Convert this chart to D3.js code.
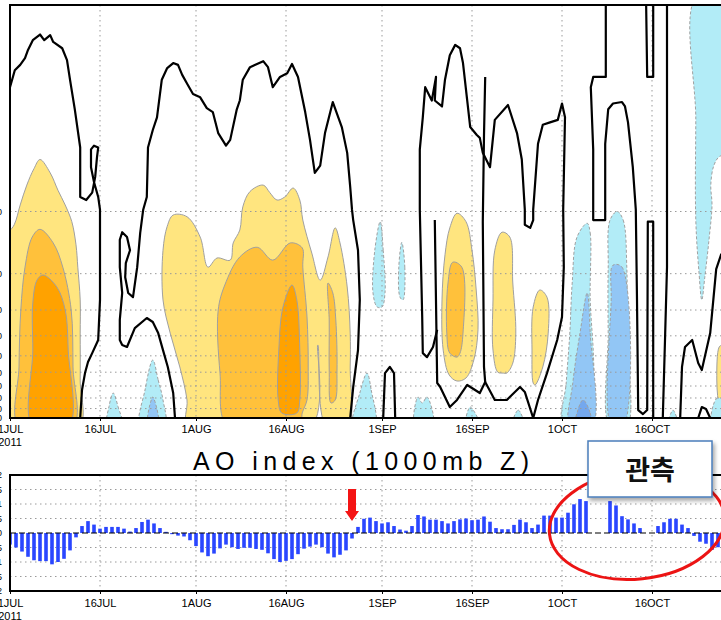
<!DOCTYPE html>
<html>
<head>
<meta charset="utf-8">
<script src="https://cdn.jsdelivr.net/npm/d3@7"></script>
<style>
  body { margin: 0; background: #fff; }
  svg { display: block; }
</style>
</head>
<body>
<div id="chart"></div>
<script>
// day index 0 = 1 JUL 2011
const dayTicks = [0, 15, 31, 46, 62, 77, 92, 107];
const dayLabels = ["1JUL", "16JUL", "1AUG", "16AUG", "1SEP", "16SEP", "1OCT", "16OCT"];
const pressureTicks = [1000, 900, 800, 700, 600, 500, 400, 300, 200, 100];
const aoTicks = [-2, -1.5, -1, -0.5, 0, 0.5, 1, 1.5, 2];

// daily AO index (null = no bar)
const aoValues = [
  -0.4, -0.5, -0.64, -0.82, -0.94, -0.97, -0.97, -1.08, -1.0, -0.89,
  -0.6, -0.15, 0.24, 0.41, 0.29, 0.15, 0.21, 0.21, 0.21, 0.15,
  0.05, 0.17, 0.38, 0.46, 0.33, 0.17, 0.04, -0.04, -0.09, -0.12,
  -0.25, -0.45, -0.67, -0.8, -0.71, -0.53, -0.4, -0.49, -0.55, -0.51,
  -0.51, -0.55, -0.58, -0.7, -0.9, -1.0, -0.96, -0.9, -0.73, -0.54,
  -0.47, -0.4, -0.49, -0.71, -0.84, -0.75, -0.6, -0.19, 0.21, 0.49,
  0.53, 0.41, 0.33, 0.37, 0.24, 0.12, 0.08, 0.24, 0.62, 0.57,
  0.46, 0.46, 0.41, 0.33, 0.41, 0.47, 0.5, 0.44, 0.46, 0.57,
  0.39, 0.17, 0.13, 0.13, 0.28, 0.46, 0.37, 0.17, 0.29, 0.6,
  0.6, 0.53, 0.53, 0.7, 0.99, 1.17, 1.1, null, null, null,
  1.1, 0.95, 0.58, 0.47, 0.33, 0.17, null, null, 0.24, 0.37,
  0.49, 0.49, 0.29, 0.17, -0.1, -0.3, -0.37, -0.58, -0.49
];

// shaded areas of the time-height section: [day, hPa]
const yellowAreas = [
  [[5,56],[6.7,65],[8,79],[9.2,93],[10.3,112],[11,145],[11.3,186],[11.7,268],[11.7,388],[11.7,655],[11.5,1100],[-1,1100],[-1,137],[0.7,116],[1.7,93],[2.8,74.5],[4,62]],
  [[25.5,154],[26.2,118],[27.2,104],[29.5,106],[31.7,133],[33,186],[34.5,168],[36.7,172],[37.2,142],[38.3,123],[38.8,95],[40,80],[42.2,74.5],[43.3,81],[44.5,88],[45.8,85],[47.2,77],[48.3,88],[48.8,110],[50.3,159],[51.7,215],[53,166],[54.2,120],[55,142],[56.2,232],[56.7,388],[56.7,566],[56.3,1100],[52.7,1100],[51.3,443],[50.2,1100],[29.7,1100],[29.5,818],[28.3,566],[26.7,388],[25.5,268]],
  [[74.5,102],[76,112],[77,154],[77.7,240],[78,374],[77.3,524],[76,640],[74.5,662],[73.2,619],[72.2,469],[72,268],[72.5,162],[73.3,120]],
  [[82,126],[83.3,133],[83.8,222],[84.3,388],[83.8,542],[82.8,606],[82.2,606],[81.3,600],[80.5,469],[80.5,268],[80.8,154]],
  [[88.3,240],[89.5,260],[89.7,388],[88.8,566],[87.5,692],[87.2,677],[87,469],[87.2,290]],
  [[118.2,453],[118.7,443],[121,430],[121,1100],[118.7,1100],[118.2,915],[117.8,655]]
];
const orangeAreas = [
  [[5,122],[7.2,142],[8.8,186],[10.2,300],[10.5,566],[10.5,1100],[1.5,1100],[1.5,566],[1.8,300],[2.5,186],[3.7,133]],
  [[34.7,300],[35.8,227],[38.3,166],[41.2,149],[43.8,172],[46.7,142],[48.7,150],[48.8,186],[49.5,324],[49.7,566],[49.5,818],[48.7,946],[48.3,1100],[36.3,1100],[35,606]],
  [[53,222],[53.8,248],[54.3,335],[54.5,586],[54.2,818],[53.5,846],[53.2,586],[53.2,335]],
  [[73.8,176],[75.3,186],[75.5,388],[75,485],[74.5,507],[73.3,485],[72.8,388],[73,222]]
];
const darkOrangeAreas = [
  [[5.5,203],[7.8,232],[9.2,300],[9.7,469],[9.8,1100],[3.8,1100],[3.8,469],[3.8,277],[4.5,215]],
  [[47,227],[47.8,268],[48.3,469],[48.3,818],[47.8,946],[45.3,946],[44.7,818],[44.8,469],[45.5,290]]
];
const cyanAreas = [
  [[17.2,757],[18,880],[18.7,1100],[16.2,1100],[16.5,880]],
  [[23.8,524],[24.7,655],[25.5,818],[25.8,1100],[21.7,1100],[22.5,732]],
  [[61.7,112],[62.2,154],[62.5,248],[62,290],[61.2,290],[60.5,248],[60.8,154]],
  [[65.3,141],[65.8,186],[65.5,268],[65,260],[64.8,186]],
  [[59.5,606],[60.2,732],[60.8,1100],[57.2,1100],[58.3,757]],
  [[67.5,1100],[68,791],[68.7,846],[69.5,791],[70.5,1100]],
  [[76.7,885],[78.3,1100],[76,1100]],
  [[96.2,114],[96.7,127],[96.7,268],[97.2,469],[97.5,946],[97.5,1100],[92.2,1100],[92.7,677],[93.3,388],[93.7,222],[94.5,133]],
  [[101.2,100],[102.2,110],[102.8,186],[102.8,388],[102.8,1100],[100,1100],[99.7,388],[99.7,186],[100,110]],
  [[114.5,9],[122,9],[122,51],[118.3,54],[117.3,60],[116.8,74.5],[117,93],[116.5,137],[115.8,208],[115.3,268],[114.8,192],[114.3,110],[114.3,36]],
  [[109.7,1100],[110.5,915],[111.3,1100]],
  [[117,1100],[117.7,808],[118.7,800],[120,800],[120,1100]],
  [[83.7,1100],[84.7,915],[85.7,1100]]
];
const blueAreas = [
  [[23.8,791],[24.7,1100],[23,1100]],
  [[96.2,248],[96.7,388],[97,1100],[93.3,1100],[93.8,677],[95,388]],
  [[100.5,182],[102,186],[102.2,1100],[100.3,1100],[100.2,268]]
];
const darkBlueAreas = [
  [[95.5,818],[96.7,946],[96.8,1100],[94.2,1100],[94.5,946]]
];

// thick black contour lines: [day, hPa]
const contourLines = [
  [[0,25],[0.8,20.7],[1.7,19.5],[2.5,18.1],[3,16.5],[3.8,14.8],[5,13.9],[5.7,14.8],[6.7,14],[7.2,15.1],[8.7,16.2],[9.5,18.5],[10,23],[10.8,32],[11.7,49],[11.7,85],[12.7,88],[13.7,81],[14.2,68],[14.5,54.5],[14.7,49],[14,48],[13.5,50],[13.5,61],[14,72],[14.7,85],[15,98],[15,106],[15,268],[14.7,419],[13.7,485],[13,536],[12.5,606],[12,732],[11.7,1000]],
  [[27.5,1000],[27.2,757],[26.3,566],[25.5,469],[24.7,388],[23.8,343],[22.8,328],[20.8,367],[19.5,453],[18.7,443],[18.3,419],[18.3,335],[18.7,248],[18.3,186],[18.3,137],[18.7,126],[19.5,133],[20,154],[19.3,178],[19.2,208],[19.7,248],[20.5,260],[21.2,186],[21.7,127],[22.2,98],[22.8,85],[23,49],[23.8,40.3],[24.5,35],[25.3,23],[26.2,20.2],[27.2,19.1],[28,19.5],[28.7,21.8],[29.5,24],[30.5,27],[31.7,28],[32.8,31.6],[33.8,33],[34.7,41.7],[36,48],[36.7,45],[37.8,32],[38.3,29],[38.8,23],[40,20],[40.8,19.5],[42.2,18.7],[43,20],[43.8,25],[45,22.3],[46.2,21.4],[47,19.3],[48,22.3],[49.2,33],[50,45],[50.8,65],[51.7,60],[52.5,41.7],[53.8,29.5],[55.3,39],[56.2,52],[56.7,76],[57,98],[57.2,110],[58,154],[58.3,268],[58,469],[57.2,708],[56.7,1000]],
  [[62.2,1000],[62.5,606],[63.3,566],[64,606],[64.2,1000]],
  [[71.2,374],[70.5,453],[69.5,507],[68.8,485],[68.7,324],[68.3,98],[68.3,50],[68.8,35],[69.2,25],[70.3,29],[71,22.3],[70.8,29],[72,31],[72.5,23],[73.3,17.5],[74.2,15.6],[75,16.2],[75.5,19.1],[76.2,29],[76.7,39],[77.8,42.6],[78.3,44],[78.8,52],[80,61],[80.8,36],[83,30.5],[84.5,41.7],[85.3,56],[85.8,98],[85.8,116],[86.7,120],[87.2,110],[87.2,98],[88,47],[88.8,38],[90,37],[91.3,36],[92,30],[92.5,35],[92.2,98],[92.3,186],[92,324],[91.2,419],[89.5,606],[88,818],[87.2,1000]],
  [[70.8,110],[71.2,677],[71.7,708],[73.3,885],[74.5,818],[76.2,692],[78.3,757],[79.2,670],[80.8,818],[82.8,818],[85,708],[85.8,748],[87.2,1000]],
  [[79.2,22.3],[79,42.6],[78.8,112],[79,566],[79.2,670]],
  [[99.3,9],[99.3,22.3],[97.2,22.3],[96.8,25],[97.2,50],[97.2,110],[99.2,110],[99.2,47],[99.7,32],[100.5,30],[102,29.5],[102.5,31],[103,37],[103.8,61],[104.3,98],[104.5,268],[104.7,915],[105.5,957],[106.2,915],[106.3,112],[107.2,112],[107.2,1000]],
  [[106,9],[106.2,22.3],[107.2,22.3],[107.2,9]],
  [[109.5,9],[109.5,98],[109.5,186],[109.2,388],[108.8,1000]],
  [[111.7,1000],[112,566],[112.5,453],[113.7,419],[114.7,542],[115.3,586],[116.7,388],[117.7,190],[118.5,162],[119.5,150]],
  [[114.7,1000],[115.3,885],[116,905],[116.7,1000]]
];

const width = 721;
const height = 620;

const svg = d3.select("#chart")
  .append("svg")
  .attr("width", width)
  .attr("height", height)
  .style("font-family", "'Liberation Sans', Arial, sans-serif");

const x = d3.scaleLinear().domain([0, 122]).range([10, 742]);
const yP = d3.scaleLog().domain([1000, 10]).range([418, 5]);
const yA = d3.scaleLinear().domain([-2, 2]).range([591, 475]);

const defs = svg.append("defs");
defs.append("clipPath").attr("id", "topClip")
  .append("rect").attr("x", 10).attr("y", 5).attr("width", 732).attr("height", 413);
defs.append("clipPath").attr("id", "botClip")
  .append("rect").attr("x", 10).attr("y", 475).attr("width", 732).attr("height", 116);
const shadow = defs.append("filter").attr("id", "shadow")
  .attr("x", "-20%").attr("y", "-20%").attr("width", "150%").attr("height", "160%");
shadow.append("feDropShadow").attr("dx", 2).attr("dy", 3)
  .attr("stdDeviation", 2).attr("flood-color", "#000").attr("flood-opacity", 0.35);

// ---------- upper panel ----------
const upper = svg.append("g").attr("clip-path", "url(#topClip)");

const area = d3.line()
  .x(d => x(d[0]))
  .y(d => yP(d[1]))
  .curve(d3.curveCatmullRomClosed.alpha(0.5));

function shade(list, fill, dashed) {
  upper.append("g")
    .selectAll("path")
    .data(list)
    .enter()
    .append("path")
    .attr("d", area)
    .attr("fill", fill)
    .attr("stroke", "#a0a0a0")
    .attr("stroke-width", 1)
    .attr("stroke-dasharray", dashed ? "3,2" : null);
}

shade(yellowAreas, "#ffe57f", false);
shade(orangeAreas, "#ffc13b", false);
shade(darkOrangeAreas, "#ffa200", false);
shade(cyanAreas, "#b2ecf7", true);
shade(blueAreas, "#92c6f5", true);
shade(darkBlueAreas, "#74a8ee", true);

// dotted grid
upper.selectAll(".vgrid")
  .data(dayTicks.slice(1))
  .enter()
  .append("line")
  .attr("x1", d => x(d)).attr("x2", d => x(d))
  .attr("y1", 5).attr("y2", 418)
  .attr("stroke", "#9a9a9a").attr("stroke-dasharray", "1.5,3.5");

upper.selectAll(".hgrid")
  .data(pressureTicks.slice(1))
  .enter()
  .append("line")
  .attr("x1", 10).attr("x2", 742)
  .attr("y1", d => yP(d)).attr("y2", d => yP(d))
  .attr("stroke", "#9a9a9a").attr("stroke-dasharray", "1.5,3.5");

const contour = d3.line().x(d => x(d[0])).y(d => yP(d[1]));
upper.append("g")
  .selectAll("path")
  .data(contourLines)
  .enter()
  .append("path")
  .attr("d", contour)
  .attr("fill", "none")
  .attr("stroke", "#000")
  .attr("stroke-width", 2.2)
  .attr("stroke-linejoin", "round");

// frame
svg.append("path")
  .attr("d", "M742,5H10V418H742")
  .attr("fill", "none").attr("stroke", "#000").attr("stroke-width", 2);

const xAxisTop = svg.append("g")
  .attr("transform", "translate(0,418)")
  .call(d3.axisBottom(x).tickValues(dayTicks).tickFormat((d, i) => dayLabels[i]).tickSize(3).tickPadding(4));
xAxisTop.select(".domain").remove();

// level labels sit mostly outside the cropped left edge, as in the source image
const yAxisTop = svg.append("g")
  .attr("class", "ylab")
  .attr("transform", "translate(10,0)")
  .call(d3.axisLeft(yP).tickValues(pressureTicks).tickFormat(d3.format("d")).tickSize(0).tickPadding(8));
yAxisTop.select(".domain").remove();

svg.append("text")
  .attr("x", x(0)).attr("y", 446)
  .attr("text-anchor", "middle")
  .attr("font-size", 11)
  .text("2011");

// ---------- title ----------
svg.append("text")
  .attr("x", 361).attr("y", 470)
  .attr("text-anchor", "middle")
  .attr("font-size", 25)
  .attr("textLength", 336)
  .attr("lengthAdjust", "spacing")
  .text("AO index (1000mb Z)");

// ---------- lower panel ----------
const lower = svg.append("g").attr("clip-path", "url(#botClip)");

lower.selectAll(".vgrid")
  .data(dayTicks.slice(1))
  .enter()
  .append("line")
  .attr("x1", d => x(d)).attr("x2", d => x(d))
  .attr("y1", 475).attr("y2", 591)
  .attr("stroke", "#9a9a9a").attr("stroke-dasharray", "1.5,3.5");

lower.selectAll(".hgrid")
  .data(aoTicks.filter(d => d !== 0 && Math.abs(d) < 2))
  .enter()
  .append("line")
  .attr("x1", 10).attr("x2", 742)
  .attr("y1", d => yA(d)).attr("y2", d => yA(d))
  .attr("stroke", "#9a9a9a").attr("stroke-dasharray", "1.5,3.5");

const barData = aoValues
  .map((v, i) => ({ day: i, value: v }))
  .filter(d => d.value !== null);

lower.selectAll("rect")
  .data(barData)
  .enter()
  .append("rect")
  .attr("x", d => x(d.day) - 1.8)
  .attr("width", 3.6)
  .attr("y", d => yA(Math.max(0, d.value)))
  .attr("height", d => Math.abs(yA(d.value) - yA(0)))
  .attr("fill", "#2a46ff");

lower.append("line")
  .attr("x1", 10).attr("x2", 742)
  .attr("y1", yA(0)).attr("y2", yA(0))
  .attr("stroke", "#000").attr("stroke-width", 1.2)
  .attr("stroke-dasharray", "6,3");

svg.append("path")
  .attr("d", `M742,${yA(2)}H10V${yA(-2)}H742`)
  .attr("fill", "none").attr("stroke", "#000").attr("stroke-width", 2);

const xAxisBot = svg.append("g")
  .attr("transform", `translate(0,${yA(-2)})`)
  .call(d3.axisBottom(x).tickValues(dayTicks).tickFormat((d, i) => dayLabels[i]).tickSize(3).tickPadding(5));
xAxisBot.select(".domain").remove();

const yAxisBot = svg.append("g")
  .attr("class", "ylab")
  .attr("transform", "translate(10,0)")
  .call(d3.axisLeft(yA).tickValues(aoTicks).tickFormat(d => d).tickSize(0).tickPadding(8));
yAxisBot.select(".domain").remove();

svg.append("text")
  .attr("x", x(0)).attr("y", 620)
  .attr("text-anchor", "middle")
  .attr("font-size", 11)
  .text("2011");

svg.selectAll(".tick text")
  .attr("font-size", 11)
  .attr("font-family", "'Liberation Sans', Arial, sans-serif")
  .attr("fill", "#000");
svg.selectAll(".ylab .tick text").attr("font-size", 9);

// ---------- annotations ----------
const ax = x(57);
svg.append("path")
  .attr("d", `M${ax - 4},489H${ax + 4}V511H${ax + 7}L${ax},521L${ax - 7},511H${ax - 4}Z`)
  .attr("fill", "#f41414");

svg.append("ellipse")
  .attr("cx", x(104.5)).attr("cy", 525)
  .attr("rx", 88).attr("ry", 54)
  .attr("transform", `rotate(-6,${x(104.5)},525)`)
  .attr("fill", "none")
  .attr("stroke", "#ec1414")
  .attr("stroke-width", 3);

svg.append("rect")
  .attr("x", 588).attr("y", 441)
  .attr("width", 124).attr("height", 56)
  .attr("fill", "#fff")
  .attr("stroke", "#4a7ebb")
  .attr("stroke-width", 1.5)
  .attr("filter", "url(#shadow)");

svg.append("text")
  .attr("x", 650).attr("y", 480)
  .attr("text-anchor", "middle")
  .attr("font-family", "'Noto Sans CJK KR', sans-serif")
  .attr("font-weight", "bold")
  .attr("font-size", 27)
  .attr("fill", "#111")
  .text("관측");
</script>
</body>
</html>
